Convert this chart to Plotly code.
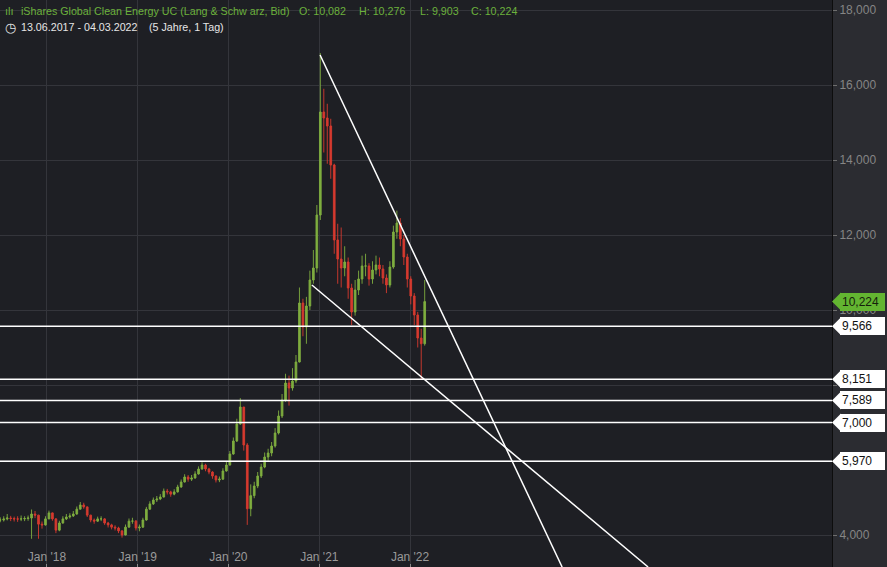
import pandas as pd
import plotly.graph_objects as go

# ---------------- data (bi-weekly candles) ----------------
start_date = "2017-06-13"
first_open = 4380
close = [4400, 4400, 4427, 4453, 4440, 4427, 4427, 4430, 4440, 4453,
         4560, 4530, 4290, 4270, 4430, 4590, 4430, 4130, 4320, 4430,
         4480, 4510, 4560, 4690, 4800, 4750, 4530, 4400, 4370, 4430,
         4430, 4320, 4270, 4210, 4187, 4110, 4000, 4210, 4370, 4370,
         4187, 4210, 4400, 4690, 4830, 4933, 4960, 5013, 5170, 5150,
         5090, 5150, 5280, 5413, 5547, 5490, 5520, 5627, 5760, 5867,
         5760, 5680, 5573, 5467, 5490, 5707, 5867, 6160, 6507, 6960,
         7413, 6400, 4700, 5050, 5307, 5573, 5813, 6080, 6187, 6373,
         6720, 7173, 7600, 8053, 7920, 8107, 8613, 10187, 9547, 10107,
         10800, 11120, 12533, 15280, 15120, 14907, 13867, 11867, 11360, 11120,
         11280, 10587, 9947, 10533, 10827, 11173, 11173, 10827, 11067, 11200,
         11093, 10853, 10667, 11147, 12080, 12320, 11893, 11413, 10827, 10373,
         9867, 9253, 9100, 10224]
high = [4460, 4470, 4500, 4560, 4510, 4490, 4500, 4520, 4500, 4520,
        4680, 4640, 4540, 4360, 4500, 4650, 4600, 4450, 4380, 4500,
        4560, 4580, 4640, 4760, 4880, 4860, 4760, 4540, 4440, 4490,
        4500, 4450, 4350, 4300, 4260, 4220, 4130, 4280, 4440, 4460,
        4400, 4280, 4460, 4750, 4900, 5000, 5040, 5090, 5240, 5230,
        5180, 5220, 5340, 5480, 5620, 5600, 5600, 5700, 5830, 5940,
        5900, 5790, 5700, 5590, 5560, 5780, 5950, 6240, 6600, 7100,
        7650, 7350, 6450, 5350, 5420, 5680, 5900, 6200, 6300, 6480,
        6850, 7320, 7760, 8300, 8250, 8450, 8800, 10600, 10300, 10350,
        11050, 11600, 12800, 16850, 15900, 15500, 15100, 13900, 12300, 12200,
        11700, 11400, 10700, 10800, 11050, 11450, 11500, 11250, 11300, 11450,
        11400, 11200, 10950, 11300, 12250, 12650, 12450, 12000, 11500, 10900,
        10450, 9950, 9500, 10800]
low = [4330, 4340, 4360, 4390, 4370, 4360, 4350, 4370, 4370, 4380,
       3900, 4450, 3900, 4170, 4250, 4420, 4380, 4050, 4100, 4300,
       4400, 4440, 4480, 4540, 4680, 4700, 4480, 4340, 4300, 4350,
       4370, 4270, 4200, 4150, 4120, 4050, 3930, 3990, 4200, 4300,
       4120, 4100, 4190, 4380, 4670, 4800, 4880, 4930, 5000, 5080,
       5020, 5060, 5130, 5260, 5400, 5420, 5440, 5500, 5610, 5740,
       5700, 5620, 5500, 5400, 5410, 5470, 5690, 5850, 6140, 6480,
       6940, 6250, 4270, 4500, 4980, 5250, 5520, 5780, 5950, 6100,
       6330, 6680, 7120, 7550, 7450, 7850, 8050, 8600, 9300, 9100,
       10000, 10700, 11000, 12400, 14200, 13900, 13500, 11500, 10700, 10600,
       10900, 10300, 9600, 9850, 10400, 10700, 10900, 10650, 10700, 10950,
       10900, 10700, 10450, 10600, 11100, 11900, 11700, 11200, 10600, 10150,
       9600, 9000, 8151, 9050]
opens = [first_open] + close[:-1]
dates = pd.date_range(start_date, periods=len(close), freq="14D")

level_values = [9566, 8151, 7589, 7000, 5970]
level_labels = ["9,566", "8,151", "7,589", "7,000", "5,970"]
last_value = 10224
last_label = "10,224"

# trend lines: (start date, start value, end date, end value)
trend_lines = [("2021-01-04", 16800, "2023-09-05", 3147),
               ("2020-12-02", 10667, "2024-08-16", 3147)]

x_tick_vals = ["2018-01-01", "2019-01-01", "2020-01-01", "2021-01-01", "2022-01-01"]
x_tick_text = ["Jan '18", "Jan '19", "Jan '20", "Jan '21", "Jan '22"]
y_tick_vals = [4000, 6000, 8000, 10000, 12000, 14000, 16000, 18000]
y_tick_text = ["4,000", "", "", "10,000", "12,000", "14,000", "16,000", "18,000"]

title_text = "iShares Global Clean Energy UC (Lang & Schw arz, Bid)"
ohlc_text = ["O: 10,082", "H: 10,276", "L: 9,903", "C: 10,224"]
period_text = "13.06.2017 - 04.03.2022"
span_text = "(5 Jahre, 1 Tag)"

# ---------------- styling ----------------
W, H = 887, 567
PLOT_W = 832
Y_MIN, Y_MAX = 3146.7, 18266.7
X_RANGE = ["2017-06-26", "2026-08-26"]
PLOT_BG = "#1e1f24"
PANEL_BG = "#2b2c31"
GRID = "#34353b"
GREEN = "#7fae3f"
RED = "#d63a2f"
HEAD_GREEN = "#6cb13c"

fig = go.Figure()
fig.add_trace(go.Candlestick(
    x=dates, open=opens, high=high, low=low, close=close,
    increasing=dict(line=dict(color=GREEN, width=0.9), fillcolor=GREEN),
    decreasing=dict(line=dict(color=RED, width=0.9), fillcolor=RED),
    whiskerwidth=0, showlegend=False, hoverinfo="skip"))

shapes = []
annotations = []

for (d0, v0, d1, v1) in trend_lines:
    shapes.append(dict(type="line", xref="x", yref="y", x0=d0, y0=v0, x1=d1, y1=v1,
                       line=dict(color="white", width=1.5)))


def ypaper(v):
    return (v - Y_MIN) / (Y_MAX - Y_MIN)


tip_path = "M 0,0 L 9,9 L 9,-9 Z"


def price_tag(v, text, bg, fg):
    shapes.append(dict(type="path", xref="paper", yref="paper", xsizemode="pixel",
                       ysizemode="pixel", xanchor=1, yanchor=ypaper(v), path=tip_path,
                       fillcolor=bg, line=dict(width=0), layer="above"))
    annotations.append(dict(xref="paper", yref="y", x=1, y=v, xanchor="left",
                            yanchor="middle", xshift=8, text=text, showarrow=False,
                            align="left", width=41, height=14, borderpad=2,
                            borderwidth=0, bgcolor=bg,
                            font=dict(family="Arial", size=12, color=fg)))


for v, lab in zip(level_values, level_labels):
    shapes.append(dict(type="line", xref="paper", yref="y", x0=0, x1=1, y0=v, y1=v,
                       line=dict(color="white", width=1.5)))
    price_tag(v, lab, "white", "#111111")

price_tag(last_value, last_label, "#63b531", "#15200c")


def head(x_px, y_px, text, color, size=10.7):
    annotations.append(dict(xref="paper", yref="paper", x=x_px / PLOT_W,
                            y=1 - y_px / H, xanchor="left", yanchor="middle",
                            text=text, showarrow=False,
                            font=dict(family="Arial", size=size, color=color)))


head(3, 11, "ılı", HEAD_GREEN, 11)
head(19, 11, title_text, HEAD_GREEN)
ohlc_x = [297, 357, 418, 469]
for xx, t in zip(ohlc_x, ohlc_text):
    head(xx, 11, t, HEAD_GREEN)
head(3, 27, "◷", "#e6e6e6", 13)
head(19, 27, period_text, "#e6e6e6")
head(147, 27, span_text, "#e6e6e6")

fig.update_layout(
    width=W, height=H,
    margin=dict(l=0, r=W - PLOT_W, t=0, b=0),
    paper_bgcolor=PANEL_BG, plot_bgcolor=PLOT_BG,
    shapes=shapes, annotations=annotations,
    showlegend=False,
    xaxis=dict(type="date", range=X_RANGE, rangeslider=dict(visible=False),
               tickvals=x_tick_vals, ticktext=x_tick_text,
               ticklabelposition="inside", ticks="inside", ticklen=3,
               tickcolor="#8a8a8a",
               tickfont=dict(family="Arial", size=12, color="#9a9a9a"),
               showgrid=True, gridcolor=GRID, gridwidth=1, zeroline=False,
               showline=False, fixedrange=True),
    yaxis=dict(side="right", range=[Y_MIN, Y_MAX], tickvals=y_tick_vals,
               ticktext=y_tick_text, ticks="outside", ticklen=4, tickcolor="#6e6e6e",
               tickfont=dict(family="Arial", size=12, color="#858585"),
               showgrid=True, gridcolor=GRID, gridwidth=1, zeroline=False,
               showline=True, linecolor="#0d0d0d", linewidth=1, fixedrange=True),
)

fig.write_html("out.html", config={"displayModeBar": False},
               post_script="document.body.style.margin='0px';")
